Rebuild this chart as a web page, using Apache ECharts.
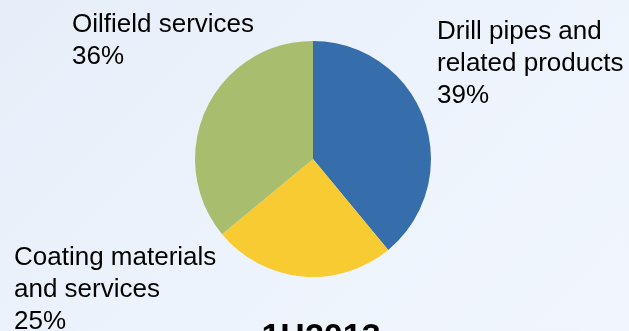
<!DOCTYPE html>
<html>
<head>
<meta charset="utf-8">
<script src="https://cdn.jsdelivr.net/npm/echarts@6/dist/echarts.min.js"></script>
<style>
  html, body { margin: 0; padding: 0; }
  body { background: linear-gradient(135deg, #e6eef9 0%, #edf3fc 50%, #f1f6fe 100%); }
  #chart { width: 629px; height: 331px; }
</style>
</head>
<body>
<div id="chart"></div>
<script>
// Revenue split by business segment
const segments = ['Drill pipes and\nrelated products', 'Coating materials\nand services', 'Oilfield services'];
const shares = [39, 25, 36];
const segmentColors = ['#366dab', '#f9cb32', '#a9bd6e'];
const periodLabel = '1H2013';

// Top-left anchor of each segment's label block
const labelAnchors = [
  { x: 437, y: 16 },
  { x: 14, y: 242 },
  { x: 72, y: 9 }
];

const chart = echarts.init(document.getElementById('chart'));

chart.setOption({
  backgroundColor: 'transparent',
  animation: false,
  textStyle: { fontFamily: 'Liberation Sans, Arial, sans-serif' },
  graphic: [{
    type: 'text',
    x: 321,
    y: 321,
    style: {
      text: periodLabel,
      fill: '#000',
      font: 'bold 34px "Liberation Sans", Arial, sans-serif',
      textAlign: 'center',
      textVerticalAlign: 'top'
    }
  }],
  series: [{
    type: 'pie',
    center: [313, 159],
    radius: 118,
    startAngle: 90,
    clockwise: true,
    silent: true,
    itemStyle: { borderWidth: 0 },
    emphasis: { disabled: true },
    labelLine: { show: false },
    label: {
      show: true,
      position: 'outside',
      alignTo: 'none',
      overflow: 'none',
      formatter: '{b}\n{c}%',
      color: '#000',
      fontSize: 26,
      lineHeight: 32,
      fontFamily: 'Liberation Sans, Arial, sans-serif'
    },
    labelLayout: function (params) {
      const a = labelAnchors[params.dataIndex];
      return { x: a.x, y: a.y, align: 'left', verticalAlign: 'top', hideOverlap: false, moveOverlap: false };
    },
    data: segments.map((name, i) => ({
      name: name,
      value: shares[i],
      itemStyle: { color: segmentColors[i] }
    }))
  }]
});
</script>
</body>
</html>
